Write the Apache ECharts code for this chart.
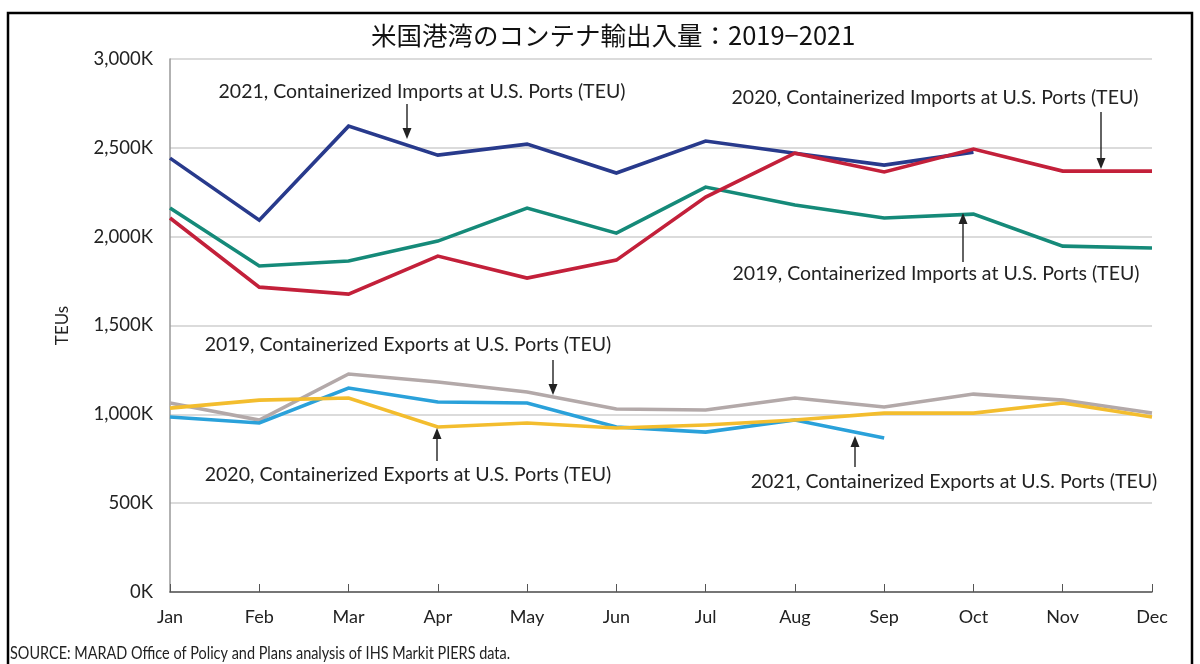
<!DOCTYPE html>
<html>
<head>
<meta charset="utf-8">
<script src="https://cdn.jsdelivr.net/npm/echarts@6/dist/echarts.min.js"></script>
<style>
  html, body { margin: 0; padding: 0; background: #fff; }
  #chart { width: 1200px; height: 664px; }
</style>
</head>
<body>
<div id="chart"></div>
<script>
// Monthly container volumes at U.S. ports, thousands of TEU
const months = ['Jan', 'Feb', 'Mar', 'Apr', 'May', 'Jun', 'Jul', 'Aug', 'Sep', 'Oct', 'Nov', 'Dec'];

const imports2021 = [2442, 2093, 2622, 2459, 2521, 2358, 2538, 2470, 2403, 2476];
const imports2020 = [2105, 1716, 1677, 1891, 1767, 1868, 2223, 2470, 2364, 2493, 2369, 2369];
const imports2019 = [2161, 1835, 1863, 1975, 2161, 2020, 2279, 2178, 2105, 2127, 1947, 1936];

const exports2019 = [1064, 968, 1227, 1182, 1126, 1030, 1024, 1092, 1041, 1114, 1080, 1007];
const exports2020 = [1035, 1080, 1092, 929, 951, 923, 940, 968, 1007, 1007, 1064, 985];
const exports2021 = [985, 951, 1148, 1069, 1064, 929, 900, 968, 867];

const yTicks = [0, 500, 1000, 1500, 2000, 2500, 3000];

const titleText = '米国港湾のコンテナ輸出入量：2019−2021';
const sourceText = 'SOURCE: MARAD Office of Policy and Plans analysis of IHS Markit PIERS data.';

const labelFont = 'Lato, "Open Sans", sans-serif';
const titleFont = '"Noto Sans CJK JP", sans-serif';

const chart = echarts.init(document.getElementById('chart'), null, { renderer: 'canvas' });

function line(name, data, color, z) {
  return {
    name, type: 'line', data, z,
    symbol: 'none', smooth: false,
    lineStyle: { color, width: 3.6, join: 'miter' },
    itemStyle: { color },
    emphasis: { disabled: true }
  };
}

// Annotation: a text label plus an arrow (shaft + filled head)
function annotation(text, tx, ty, ax, y0, y1) {
  const els = [];
  els.push({
    type: 'text', x: tx, y: ty,
    style: { text, fill: '#222', font: '19.5px ' + labelFont, align: 'center', verticalAlign: 'middle' },
    z: 10
  });
  const dir = y1 > y0 ? 1 : -1; // head at y1
  els.push({
    type: 'line',
    shape: { x1: ax, y1: y0, x2: ax, y2: y1 - dir * 9 },
    style: { stroke: '#222', lineWidth: 1.4 },
    z: 10
  });
  els.push({
    type: 'polygon',
    shape: { points: [[ax - 4.5, y1 - dir * 11], [ax + 4.5, y1 - dir * 11], [ax, y1]] },
    style: { fill: '#222' },
    z: 10
  });
  return els;
}

const graphics = [].concat(
  [{
    type: 'rect', shape: { x: 8, y: 13, width: 1184, height: 700 },
    style: { fill: 'none', stroke: '#000', lineWidth: 2.5 }, z: 0, silent: true
  }],
  annotation('2021, Containerized Imports at U.S. Ports (TEU)', 422, 92, 407, 104, 139),
  annotation('2020, Containerized Imports at U.S. Ports (TEU)', 935, 98, 1101, 112, 169),
  annotation('2019, Containerized Imports at U.S. Ports (TEU)', 936, 274, 963, 262, 213),
  annotation('2019, Containerized Exports at U.S. Ports (TEU)', 408, 345, 553, 360, 395),
  annotation('2020, Containerized Exports at U.S. Ports (TEU)', 408, 475, 437, 461, 428),
  annotation('2021, Containerized Exports at U.S. Ports (TEU)', 954, 482, 855, 467, 436),
  [{
    type: 'text', x: 10, y: 654, scaleX: 0.85,
    style: { text: sourceText, fill: '#222', font: '17px ' + labelFont, verticalAlign: 'middle' }
  }]
);

chart.setOption({
  animation: false,
  backgroundColor: '#fff',
  title: {
    text: titleText,
    left: 366, top: 18,
    textStyle: { fontFamily: titleFont, fontSize: 25.5, fontWeight: 'normal', color: '#111' }
  },
  grid: { left: 170, right: 48, top: 59, bottom: 72, containLabel: false },
  xAxis: {
    type: 'category',
    data: months,
    boundaryGap: false,
    axisLine: { lineStyle: { color: '#555', width: 1.5 } },
    axisTick: { inside: true, length: 8, lineStyle: { color: '#555', width: 1 } },
    axisLabel: { color: '#222', fontFamily: labelFont, fontSize: 18, margin: 16 },
    splitLine: { show: false }
  },
  yAxis: {
    type: 'value',
    min: yTicks[0], max: yTicks[yTicks.length - 1], interval: 500,
    name: 'TEUs',
    nameLocation: 'middle', nameRotate: 90, nameGap: 99,
    nameTextStyle: { color: '#222', fontFamily: labelFont, fontSize: 17 },
    axisLine: { show: true, lineStyle: { color: '#999', width: 1.5 } },
    axisTick: { show: false },
    axisLabel: {
      color: '#222', fontFamily: labelFont, fontSize: 18.5, margin: 17,
      formatter: v => (v === 0 ? '0' : v.toLocaleString('en-US')) + 'K'
    },
    splitLine: { show: true, lineStyle: { color: '#cfcfcf', width: 1.5 } }
  },
  series: [
    line('2019 Exports', exports2019, '#b3a9a9', 2),
    line('2021 Exports', exports2021, '#2aa1da', 3),
    line('2020 Exports', exports2020, '#f3bd2e', 4),
    line('2019 Imports', imports2019, '#158a79', 2),
    line('2021 Imports', imports2021, '#283a8c', 3),
    line('2020 Imports', imports2020, '#c3203a', 4)
  ],
  graphic: graphics
});
</script>
</body>
</html>
